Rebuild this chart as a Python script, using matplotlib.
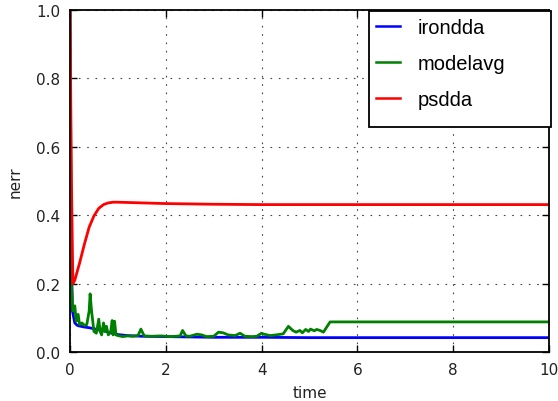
import matplotlib
matplotlib.use("Agg")
import matplotlib.pyplot as plt
from matplotlib.patches import Rectangle

t_iron = [0, 0.02, 0.05, 0.1, 0.15, 0.2, 0.3, 0.4, 0.5, 0.6, 0.7, 0.8, 0.9, 1.0,
          1.2, 1.5, 2.0, 2.5, 3.0, 4.0, 5.0, 6.0, 8.0, 10.0]
irondda = [1.0, 0.35, 0.12, 0.085, 0.078, 0.076, 0.073, 0.071, 0.068, 0.065, 0.062,
           0.058, 0.054, 0.051, 0.048, 0.046, 0.045, 0.044, 0.043, 0.043, 0.042,
           0.042, 0.042, 0.042]

t_model = [0, 0.03, 0.06, 0.1, 0.13, 0.17, 0.2, 0.25, 0.3, 0.35, 0.4, 0.42, 0.45,
           0.5, 0.55, 0.6, 0.63, 0.66, 0.7, 0.73, 0.76, 0.8, 0.85, 0.88, 0.9, 0.93,
           0.96, 1.0, 1.1, 1.2, 1.3, 1.42, 1.48, 1.55, 1.7, 1.9, 2.1, 2.3, 2.35,
           2.42, 2.5, 2.65, 2.75, 2.85, 3.0, 3.1, 3.2, 3.3, 3.45, 3.55, 3.65, 3.8,
           3.9, 4.0, 4.05, 4.18, 4.3, 4.45, 4.56, 4.65, 4.72, 4.8, 4.85, 4.92, 4.98,
           5.02, 5.1, 5.15, 5.22, 5.29, 5.43, 10.0]
modelavg = [1.0, 0.2, 0.12, 0.135, 0.09, 0.11, 0.08, 0.085, 0.078, 0.08, 0.12, 0.17,
            0.12, 0.06, 0.055, 0.096, 0.06, 0.05, 0.085, 0.06, 0.075, 0.05, 0.06,
            0.092, 0.05, 0.09, 0.05, 0.048, 0.045, 0.047, 0.046, 0.048, 0.067, 0.047,
            0.046, 0.047, 0.045, 0.047, 0.063, 0.047, 0.046, 0.052, 0.05, 0.045,
            0.046, 0.058, 0.056, 0.05, 0.048, 0.055, 0.046, 0.045, 0.046, 0.055,
            0.052, 0.048, 0.05, 0.053, 0.075, 0.063, 0.058, 0.063, 0.056, 0.066,
            0.06, 0.067, 0.062, 0.066, 0.063, 0.058, 0.088, 0.088]

t_ps = [0, 0.03, 0.06, 0.1, 0.2, 0.3, 0.4, 0.5, 0.6, 0.7, 0.8, 0.9, 1.0, 1.5, 2.0,
        3.0, 4.0, 6.0, 8.0, 10.0]
psdda = [1.0, 0.5, 0.2, 0.21, 0.26, 0.315, 0.365, 0.398, 0.42, 0.431, 0.436, 0.438,
         0.438, 0.436, 0.434, 0.432, 0.431, 0.431, 0.431, 0.431]

series_names = ["irondda", "modelavg", "psdda"]
xticks = [0, 2, 4, 6, 8, 10]
yticks = [0.0, 0.2, 0.4, 0.6, 0.8, 1.0]

fig = plt.figure(figsize=(5.58, 4.02), dpi=100)
ax = fig.add_axes([70 / 558, 1 - 353 / 402, 479 / 558, 342 / 402])

ax.plot(t_iron, irondda, color="#0000ff", lw=2, label=series_names[0])
ax.plot(t_model, modelavg, color="#008000", lw=2, label=series_names[1])
ax.plot(t_ps, psdda, color="#ff0000", lw=2, label=series_names[2])

ax.set_xlim(0, 10)
ax.set_ylim(0, 1.0)
ax.set_xticks(xticks)
ax.set_yticks(yticks)
ax.set_xticklabels([str(v) for v in xticks])
ax.set_yticklabels([f"{v:.1f}" for v in yticks])
ax.tick_params(direction="in", length=5, width=1, top=True, right=True,
               labelsize=11, colors="black", pad=7)
for lab in ax.get_xticklabels() + ax.get_yticklabels():
    lab.set_color("#222222")
ax.grid(True, color="#444444", linestyle=(0, (1.5, 6)), linewidth=0.8)
for s in ax.spines.values():
    s.set_linewidth(1.3)
    s.set_color("black")

ax.set_xlabel("time", fontsize=11, color="#222222", labelpad=6)
ax.set_ylabel("nerr", fontsize=11, color="#222222", labelpad=10)

# legend frame (box is larger than its content in the reference)
frame = Rectangle((369 / 558, 1 - 128 / 402), 182 / 558, 116 / 402,
                  transform=fig.transFigure, facecolor="white", edgecolor="black",
                  linewidth=1.3, zorder=4.9, clip_on=False)
ax.add_artist(frame)

leg = ax.legend(loc="upper left",
                bbox_to_anchor=(369 / 558, 1 - 128 / 402, 182 / 558, 116 / 402),
                bbox_transform=fig.transFigure, borderaxespad=0, mode="expand",
                prop={"family": "Liberation Sans", "size": 14.5},
                frameon=False,
                handlelength=1.2, handletextpad=0.85, labelspacing=0.85,
                borderpad=0.35)
leg.set_zorder(5)
for h in leg.get_lines():
    h.set_linewidth(1.8)

fig.savefig("out.png", dpi=100)
